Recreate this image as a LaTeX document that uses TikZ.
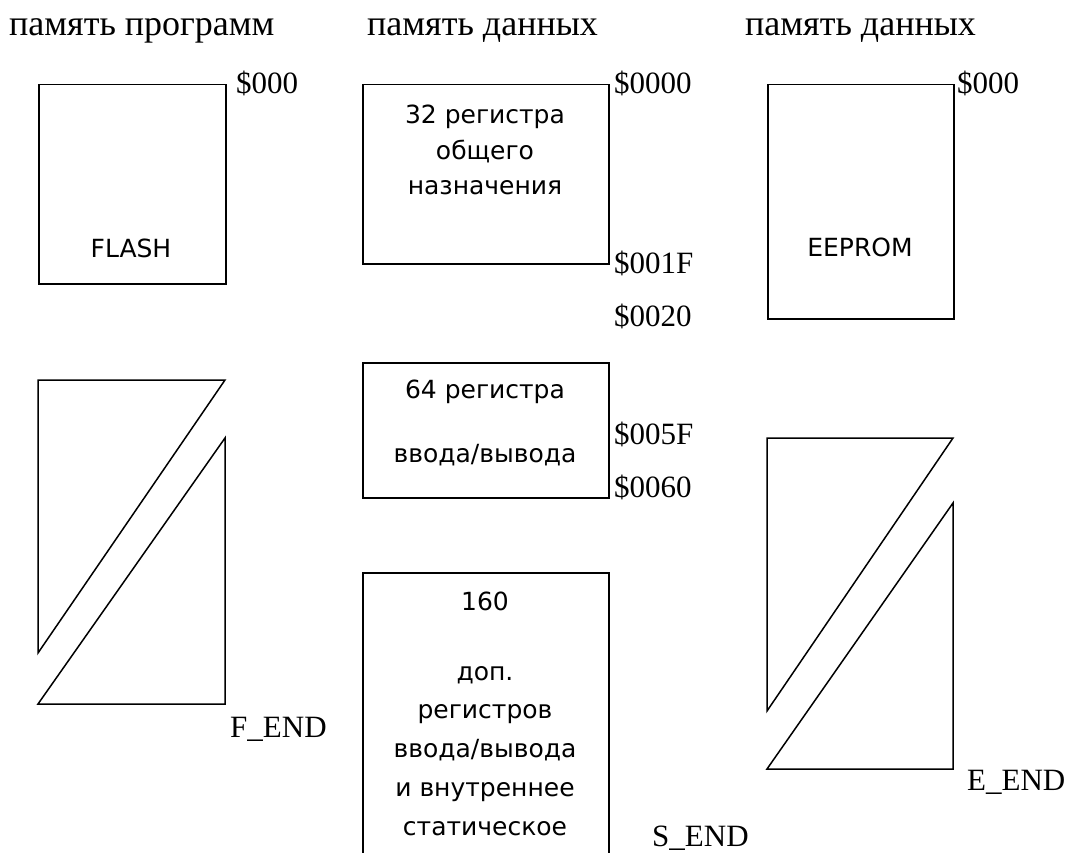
\documentclass[tikz,border=0pt]{standalone}
\usepackage{fontspec}
\setmainfont{Liberation Serif}
\newfontfamily\boxfont{DejaVu Sans}
\begin{document}
\begin{tikzpicture}[x=1pt,y=-1pt,
  head/.style={font=\fontsize{36}{40}\selectfont, inner sep=0pt, anchor=base west},
  lab/.style={font=\fontsize{31}{34}\selectfont, inner sep=0pt, anchor=base west},
  btxt/.style={font=\boxfont\fontsize{25}{29}\selectfont, inner sep=0pt, anchor=base},
  shp/.style={draw=black, line width=1.5pt, line join=miter}]
\useasboundingbox (0,0) rectangle (1068,853);
\clip (0,0) rectangle (1068,853);
% headings
\node[head] (h1) at (9,36) {память программ};
\node[head] (h2) at (367,36) {память данных};
\node[head] (h3) at (745,36) {память данных};
% FLASH
\node[shp, minimum width=187pt, minimum height=199pt, inner sep=0pt, anchor=north west] (flash) at (38,84) {};
\node[btxt] (flasht) at (131,257) {FLASH};
\node[lab] (f0) at (236,94) {\$000};
\draw[shp] (38,380) -- (225,380) -- (38,653) -- cycle;
\draw[shp] (225,438) -- (225,704) -- (38,704) -- cycle;
\node[lab] (fend) at (230,737) {F\_END};
% data memory
\node[shp, minimum width=246pt, minimum height=179pt, inner sep=0pt, anchor=north west] (r32) at (362,84) {};
\node[btxt] (r32a) at (485,124) {32 регистра};
\node[btxt] (r32b) at (485,160) {общего};
\node[btxt] (r32c) at (485,195) {назначения};
\node[lab] (a0) at (614,94) {\$0000};
\node[lab] (a1f) at (614,273) {\$001F};
\node[lab] (a20) at (614,326) {\$0020};
\node[shp, minimum width=246pt, minimum height=135pt, inner sep=0pt, anchor=north west] (r64) at (362,362) {};
\node[btxt] (r64a) at (485,398) {64 регистра};
\node[btxt] (r64b) at (485,462) {ввода/вывода};
\node[lab] (a5f) at (614,444) {\$005F};
\node[lab] (a60) at (614,497) {\$0060};
\node[shp, minimum width=246pt, minimum height=320pt, inner sep=0pt, anchor=north west] (r160) at (362,572) {};
\node[btxt] (r160a) at (485,610) {160};
\node[btxt] (r160b) at (485,680) {доп.};
\node[btxt] (r160c) at (485,718) {регистров};
\node[btxt] (r160d) at (485,757) {ввода/вывода};
\node[btxt] (r160e) at (485,796) {и внутреннее};
\node[btxt] (r160f) at (485,835) {статическое};
\node[lab] (send) at (652,846) {S\_END};
% EEPROM
\node[shp, minimum width=186pt, minimum height=234pt, inner sep=0pt, anchor=north west] (ee) at (767,84) {};
\node[btxt] (eet) at (860,256) {EEPROM};
\node[lab] (e0) at (957,94) {\$000};
\draw[shp] (767,438) -- (953,438) -- (767,711) -- cycle;
\draw[shp] (953,503) -- (953,769) -- (767,769) -- cycle;
\node[lab] (eend) at (967,790) {E\_END};
\end{tikzpicture}
\end{document}
